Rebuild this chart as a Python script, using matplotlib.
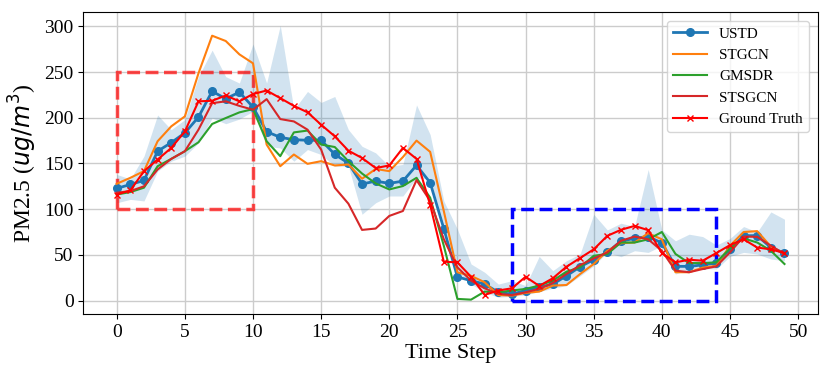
import matplotlib.pyplot as plt
import numpy as np
from matplotlib.patches import Rectangle

plt.rcParams.update({
    'font.family': ['Liberation Serif', 'DejaVu Serif'],
})

# data
steps = np.arange(50)
ustd = [122.7, 127, 131.4, 163.4, 172.8, 183.4, 200.8, 229, 220.8, 228,
        211.7, 184.8, 178.6, 176, 175.4, 175.4, 160, 150.3, 127.5, 130.7,
        128.2, 130.7, 148, 129, 78.8, 25.8, 21.8, 18, 9, 7,
        11, 14.5, 18, 27, 37, 44.7, 52.7, 65, 68, 70,
        63, 37.4, 37.4, 39, 41, 56, 71, 71, 58, 51.6]
ustd_upper = [138, 133, 158, 203, 187, 198, 245, 274, 245, 238,
              280.7, 238, 301, 208.8, 228.8, 216.8, 223.3, 187, 168.8, 161.6,
              147, 148.9, 214, 181.6, 109, 78, 40, 30.9, 18, 21.8,
              16.4, 48.3, 32.7, 43.6, 50.9, 94.4, 77.3, 84.6, 81, 143.4,
              77.3, 65.4, 72.6, 70, 60.6, 67.9, 81, 75, 97, 89]
ustd_lower = [107, 110.7, 109, 141.6, 152.5, 158, 172.5, 199.7, 193.5, 198.6,
              207, 168.8, 167, 152.5, 165.2, 159.8, 147, 147, 94.4, 107,
              114.4, 114.4, 134.3, 132.5, 83.5, 30.9, 18, 9, 3.6, 4.7,
              6.2, 9.8, 13.4, 16.4, 27, 38, 52.7, 48, 54.5, 52.7,
              60, 29, 34.5, 35.2, 34.5, 48.3, 52.7, 50.9, 45.4, 43.6]
stgcn = [127.8, 134.3, 141.6, 174.3, 190.6, 201.5, 248.7, 289.8, 284, 269.4,
         259.6, 170.7, 147, 159.8, 149.6, 152.5, 147.8, 148.9, 133.3, 144,
         141.6, 157, 175, 162.7, 98, 30.9, 27, 20, 6, 5.4,
         8.4, 9.8, 16.4, 17, 29, 40, 54.5, 62.8, 63.5, 73.7,
         67, 31, 31, 36, 38, 60, 75, 76, 59, 51]
gmsdr = [116, 118.7, 123.5, 147, 155, 163.4, 173.2, 193.2, 199.7, 205.9,
         209.5, 174.3, 158, 184, 186, 170.7, 168, 152.5, 139, 128.2,
         121.6, 125.3, 134.3, 112.6, 60, 1.8, 1, 9.8, 9, 11,
         12.7, 16.4, 21.8, 31.6, 36.3, 49, 50.9, 63.5, 63.5, 67,
         75, 51, 41, 41, 41.8, 57, 68, 63.5, 54.5, 40]
stsgcn = [118, 119.8, 125, 143.4, 155, 163.4, 187, 216, 218, 213,
          208.8, 220.4, 198.6, 196, 187, 165.2, 123.5, 106, 77.3, 78.8,
          92.6, 98, 131.8, 109, 67.2, 36.3, 21.8, 13.4, 7.3, 6,
          9, 12.7, 19.3, 29, 38.8, 46, 52.7, 65.4, 70, 67,
          54.5, 32.7, 31, 34.5, 37.4, 52.7, 70, 69.7, 60, 51]
ground_truth = [116, 120.5, 141.6, 154.3, 167, 185, 218, 218.6, 224.4, 218,
                226, 229.8, 221.5, 213, 206, 192.4, 179.7, 164, 156, 145,
                147.8, 167, 155, 104.6, 42.5, 41.8, 26, 6.2, 11, 13.4,
                26, 16, 24.4, 37, 46.5, 56, 70.8, 77.4, 81.7, 77,
                52, 41.8, 44.7, 43.6, 52, 60.6, 67, 58, 56, 52]

fig = plt.figure(figsize=(8.3, 3.78), dpi=100)
ax = fig.add_axes([0.1004, 0.1685, 0.885, 0.8005])

ax.fill_between(steps, ustd_lower, ustd_upper, color='tab:blue', alpha=0.2, linewidth=0)
ax.plot(steps, ustd, color='tab:blue', marker='o', markersize=5.5, linewidth=2, label='USTD')
ax.plot(steps, stgcn, color='tab:orange', linewidth=1.5, label='STGCN')
ax.plot(steps, gmsdr, color='tab:green', linewidth=1.5, label='GMSDR')
ax.plot(steps, stsgcn, color='tab:red', linewidth=1.5, label='STSGCN')
ax.plot(steps, ground_truth, color='red', marker='x', markersize=5, linewidth=1.5,
        label='Ground Truth')

# highlighted regions
ax.add_patch(Rectangle((0, 100), 10, 150, fill=False, edgecolor='red', alpha=0.7,
                       linestyle='--', linewidth=2.5))
ax.add_patch(Rectangle((29, 0), 15, 100, fill=False, edgecolor='blue',
                       linestyle='--', linewidth=2.5))

ax.grid(True, color='#cccccc', linewidth=1)
ax.set_axisbelow(True)
ax.set_xticks(np.arange(0, 51, 5))
ax.set_yticks(np.arange(0, 301, 50))
ax.tick_params(labelsize=14)
ax.set_xlabel('Time Step', fontsize=16, labelpad=2)
ax.set_ylabel('PM2.5 ($ug/m^3$)', fontsize=17)
ax.legend(loc='upper right', fontsize=11, handlelength=2.2, borderaxespad=0.6)

plt.savefig('out.png', dpi=100)
